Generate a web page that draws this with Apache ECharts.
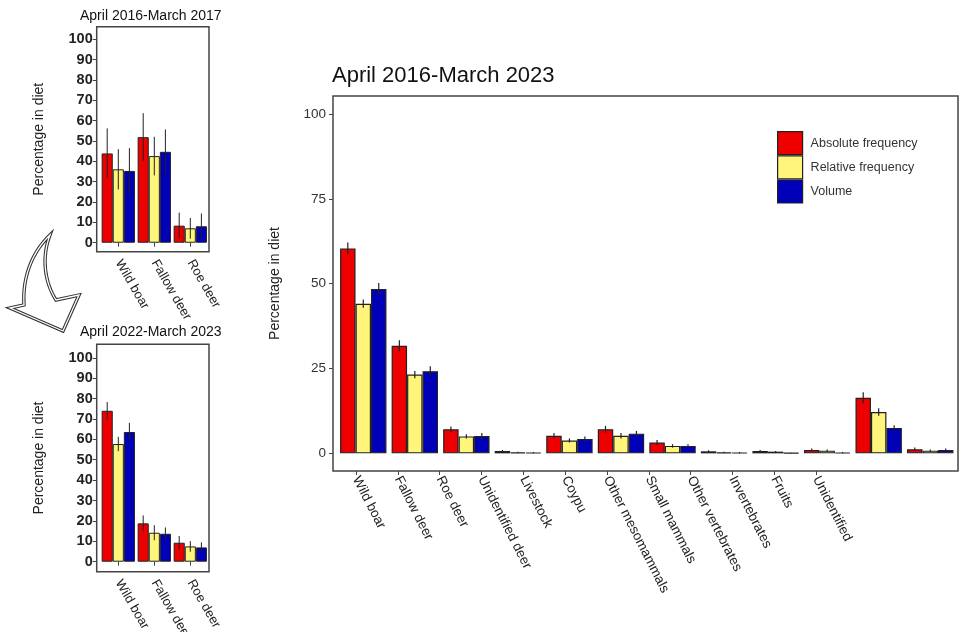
<!DOCTYPE html>
<html>
<head>
<meta charset="utf-8">
<script src="https://cdn.jsdelivr.net/npm/echarts@6/dist/echarts.min.js"></script>
<style>
  html, body { margin: 0; padding: 0; background: #fff; }
  #chart { width: 963px; height: 632px; }
</style>
</head>
<body>
<div id="chart"></div>
<script>
// Diet composition: percentage of each food item (mean ± error)
const mainCategories = ['Wild boar', 'Fallow deer', 'Roe deer', 'Unidentified deer', 'Livestock', 'Coypu',
  'Other mesomammals', 'Small mammals', 'Other vertebrates', 'Invertebrates', 'Fruits', 'Unidentified'];
const mainAbsolute = [60.4, 31.7, 7.1, 0.7, 5.2, 7.1, 3.2, 0.6, 0.7, 1.0, 16.4, 1.2];
const mainRelative = [44.1, 23.2, 5.0, 0.3, 3.8, 5.2, 2.2, 0.3, 0.5, 0.8, 12.2, 0.8];
const mainVolume   = [48.4, 24.2, 5.1, 0.2, 4.2, 5.8, 2.2, 0.2, 0.1, 0.2, 7.5, 1.0];
const mainAbsoluteErr = [1.7, 1.6, 0.8, 0.3, 0.8, 1.0, 0.7, 0.3, 0.3, 0.4, 1.6, 0.5];
const mainRelativeErr = [1.2, 1.1, 0.6, 0.2, 0.6, 0.8, 0.5, 0.2, 0.2, 0.3, 1.1, 0.3];
const mainVolumeErr   = [1.8, 1.5, 0.9, 0.2, 0.8, 0.8, 0.5, 0.2, 0.1, 0.2, 0.8, 0.4];
const mainTicks = [0, 25, 50, 75, 100];

const ungulates = ['Wild boar', 'Fallow deer', 'Roe deer'];
const earlyAbsolute = [43.9, 51.9, 8.4];
const earlyRelative = [36.1, 42.6, 7.1];
const earlyVolume   = [35.3, 44.7, 8.1];
const earlyAbsoluteErr = [12.3, 11.8, 6.4];
const earlyRelativeErr = [9.9, 9.5, 5.1];
const earlyVolumeErr   = [11.2, 11.0, 6.3];

const lateAbsolute = [74.0, 18.8, 9.3];
const lateRelative = [57.7, 14.2, 7.5];
const lateVolume   = [63.6, 13.7, 7.0];
const lateAbsoluteErr = [4.3, 3.9, 3.3];
const lateRelativeErr = [3.5, 3.7, 2.6];
const lateVolumeErr   = [4.5, 3.1, 2.5];
const smallTicks = [0, 10, 20, 30, 40, 50, 60, 70, 80, 90, 100];

const seriesNames = ['Absolute frequency', 'Relative frequency', 'Volume'];
const colors = ['#ee0000', '#fff57a', '#0000b8'];

const FONT = 'Liberation Sans, Arial, sans-serif';
const FRAME = '#444';

const chart = echarts.init(document.getElementById('chart'));

// grid rectangles: frame grids carry the y axis and border, bar grids hold the marks
const gridBase = { outerBoundsMode: 'none', containLabel: false };
const grids = [
  { left: 96.7, top: 26.7, width: 112.3, height: 225, show: true, borderColor: FRAME, borderWidth: 1.5 },
  { left: 100.3, top: 26.7, width: 108, height: 225 },
  { left: 96.7, top: 344.3, width: 112.3, height: 227.4, show: true, borderColor: FRAME, borderWidth: 1.5 },
  { left: 100.3, top: 344.3, width: 108, height: 227.4 },
  { left: 333, top: 96, width: 625, height: 375, show: true, borderColor: FRAME, borderWidth: 1.5 },
  { left: 337.5, top: 96, width: 618.5, height: 375 },
  { left: 335, top: 96, width: 502, height: 375 }
].map(function (g) { return Object.assign({}, gridBase, g); });

function hiddenCat(grid, data) {
  return { type: 'category', gridIndex: grid, data: data, show: false };
}
function labelCat(grid, data, rotate, fontSize, margin) {
  return {
    type: 'category', gridIndex: grid, data: data,
    axisLine: { show: false },
    axisTick: { show: true, alignWithLabel: true, length: 4, lineStyle: { color: FRAME, width: 1 } },
    axisLabel: { rotate: rotate, interval: 0, margin: margin, fontSize: fontSize, color: '#222', fontFamily: FONT }
  };
}
function visibleValue(grid, min, max, ticks, labelStyle) {
  return {
    type: 'value', gridIndex: grid, min: min, max: max,
    name: 'Percentage in diet', nameLocation: 'middle', nameGap: 51,
    nameTextStyle: { fontSize: 14, color: '#222', fontFamily: FONT },
    axisLine: { show: false },
    splitLine: { show: false },
    axisTick: { show: true, customValues: ticks, length: 4, lineStyle: { color: FRAME, width: 1 } },
    axisLabel: Object.assign({ customValues: ticks, fontFamily: FONT }, labelStyle)
  };
}
function hiddenValue(grid, min, max) {
  return { type: 'value', gridIndex: grid, min: min, max: max, show: false, splitLine: { show: false } };
}

const xAxes = [
  hiddenCat(0, ungulates),
  labelCat(1, ungulates, -60, 13, 9),
  hiddenCat(2, ungulates),
  labelCat(3, ungulates, -60, 13, 9),
  hiddenCat(4, mainCategories),
  hiddenCat(5, mainCategories),
  labelCat(6, mainCategories, -63, 13.5, 6)
];
const smallLabel = { fontSize: 14.5, fontWeight: 'bold', color: '#222', margin: 4 };
const yAxes = [
  visibleValue(0, -4.4, 106.2, smallTicks, smallLabel),
  hiddenValue(1, -4.4, 106.2),
  visibleValue(2, -4.9, 106.6, smallTicks, smallLabel),
  hiddenValue(3, -4.9, 106.6),
  visibleValue(4, -5.2, 105.3, mainTicks, { fontSize: 13.5, color: '#333', margin: 7 }),
  hiddenValue(5, -5.2, 105.3),
  hiddenValue(6, 0, 100)
];

// error bar drawn at the centre of the idx-th bar of a three-bar group
function errorBar(idx, gap, width) {
  return function (params, api) {
    const x = api.value(0), v = api.value(1), e = api.value(2);
    const band = api.size([1, 0])[0];
    const bw = band * (1 - gap) / 3;
    const hi = api.coord([x, v + e]);
    const lo = api.coord([x, Math.max(v - e, 0)]);
    const cx = hi[0] + (idx - 1) * bw;
    return {
      type: 'line',
      shape: { x1: cx, y1: hi[1], x2: cx, y2: lo[1] },
      style: { stroke: '#222', lineWidth: width }
    };
  };
}

const series = [];
function addPanel(axisIndex, values, errors, gap, borderWidth, errWidth) {
  values.forEach(function (vals, i) {
    series.push({
      type: 'bar', name: seriesNames[i], xAxisIndex: axisIndex, yAxisIndex: axisIndex,
      data: vals, barGap: '0%', barCategoryGap: (gap * 100) + '%',
      itemStyle: { color: colors[i], borderColor: '#222', borderWidth: borderWidth },
      emphasis: { disabled: true }, silent: true
    });
  });
  values.forEach(function (vals, i) {
    series.push({
      type: 'custom', xAxisIndex: axisIndex, yAxisIndex: axisIndex, z: 5, silent: true,
      renderItem: errorBar(i, gap, errWidth),
      data: vals.map(function (v, k) { return [k, v, errors[i][k]]; })
    });
  });
}
addPanel(1, [earlyAbsolute, earlyRelative, earlyVolume],
  [earlyAbsoluteErr, earlyRelativeErr, earlyVolumeErr], 0.075, 1, 1);
addPanel(3, [lateAbsolute, lateRelative, lateVolume],
  [lateAbsoluteErr, lateRelativeErr, lateVolumeErr], 0.075, 1, 1);
addPanel(5, [mainAbsolute, mainRelative, mainVolume],
  [mainAbsoluteErr, mainRelativeErr, mainVolumeErr], 0.1, 1.2, 1.2);

// curved hollow arrow linking the two period panels (outline sampled from bezier segments)
function cubic(p0, p1, p2, p3, n) {
  const pts = [];
  for (let i = 0; i <= n; i++) {
    const t = i / n, u = 1 - t;
    pts.push([
      u * u * u * p0[0] + 3 * u * u * t * p1[0] + 3 * u * t * t * p2[0] + t * t * t * p3[0],
      u * u * u * p0[1] + 3 * u * u * t * p1[1] + 3 * u * t * t * p2[1] + t * t * t * p3[1]
    ]);
  }
  return pts;
}
const arrowOutline = [].concat(
  cubic([50, 235], [34, 250], [22, 275], [24, 305], 16),
  [[10, 308], [63, 331], [79, 295], [56, 300]],
  cubic([56, 300], [45, 283], [41, 258], [50, 235], 16)
);

chart.setOption({
  animation: false,
  backgroundColor: '#fff',
  title: [
    { text: 'April 2016-March 2023', left: 332, top: 65, padding: 0,
      textStyle: { fontSize: 22, fontWeight: 'normal', color: '#111', fontFamily: FONT } },
    { text: 'April 2016-March 2017', left: 80, top: 9, padding: 0,
      textStyle: { fontSize: 14, fontWeight: 'normal', color: '#111', fontFamily: FONT } },
    { text: 'April 2022-March 2023', left: 80, top: 325, padding: 0,
      textStyle: { fontSize: 14, fontWeight: 'normal', color: '#111', fontFamily: FONT } }
  ],
  legend: {
    data: seriesNames, orient: 'vertical', left: 777, top: 131, padding: 0,
    itemWidth: 25, itemHeight: 23, itemGap: 0, icon: 'rect', selectedMode: false,
    itemStyle: { borderColor: '#222', borderWidth: 1.2 },
    textStyle: { fontSize: 12.5, color: '#333', fontFamily: FONT, padding: [0, 0, 0, 3] }
  },
  grid: grids,
  xAxis: xAxes,
  yAxis: yAxes,
  series: series,
  graphic: [
    { type: 'polygon', shape: { points: arrowOutline }, style: { fill: '#fff', stroke: '#333', lineWidth: 3.4, lineJoin: 'miter' }, z: 10 },
    { type: 'polygon', shape: { points: arrowOutline }, style: { fill: 'none', stroke: '#fff', lineWidth: 1.3, lineJoin: 'miter' }, z: 11 }
  ]
});
</script>
</body>
</html>
